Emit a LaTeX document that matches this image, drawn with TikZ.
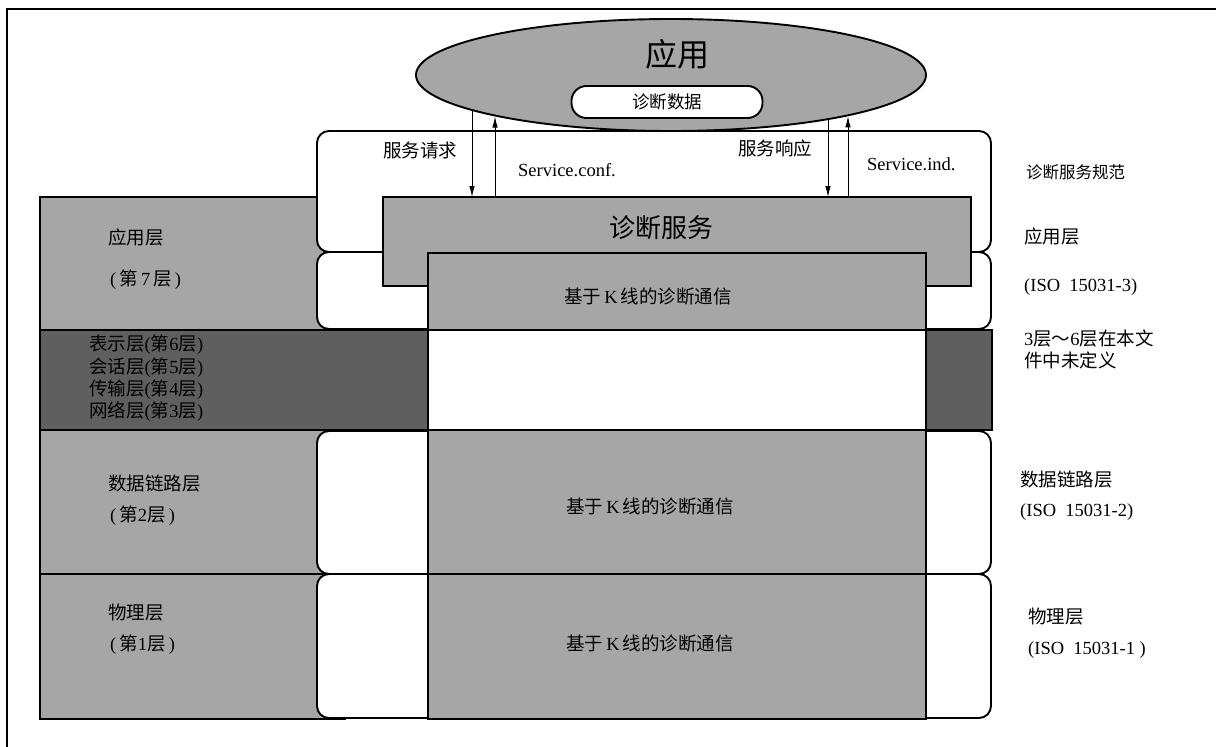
\documentclass[tikz,border=0pt]{standalone}
\usepackage{fontspec}
\setmainfont{Liberation Serif}
\newfontfamily\cjk{Noto Sans CJK SC}
\usetikzlibrary{shapes.geometric,arrows.meta}
\newcommand\zh[1]{{\cjk #1}}
\newcommand\fsz[1]{\fontsize{#1}{#1}\selectfont}
\definecolor{lg}{HTML}{A6A6A6}
\definecolor{dg}{HTML}{5F5F5F}
\begin{document}
\begin{tikzpicture}[x=1pt,y=-1pt,
  box/.style={draw, line width=1.9pt, inner sep=0pt, outer sep=0pt, anchor=north west},
  gbox/.style={box, fill=lg},
  dbox/.style={box, fill=dg},
  wbox/.style={box, fill=white, rounded corners=12pt},
  lbl/.style={anchor=west, inner sep=0pt, font=\fsz{18.5}},
  ctr/.style={inner sep=0pt, font=\fsz{18.5}},
  arr/.style={line width=0.9pt, -{Latex[length=11pt,width=5.5pt]}}]
\useasboundingbox (0,0) rectangle (1216,747);
% frame
\coordinate (fbl) at (7,747);
\coordinate (ftl) at (7,9);
\coordinate (ftr) at (1216,9);
\draw[line width=1.9pt] (fbl) -- (ftl) -- (ftr);
% left column
\node[gbox, minimum width=305, minimum height=133] (appL) at (40,197) {};
\node[gbox, minimum width=305, minimum height=144] (dlL) at (40,430) {};
\node[gbox, minimum width=305, minimum height=145] (phL) at (40,574) {};
\node[dbox, minimum width=388, minimum height=100] (midL) at (40,330) {};
% white brackets
\node[wbox, minimum width=674, minimum height=121] (spec) at (317,131) {};
\node[wbox, minimum width=674, minimum height=77] (alay) at (317,252) {};
\node[wbox, minimum width=674, minimum height=143] (dlay) at (317,431) {};
\node[wbox, minimum width=674, minimum height=144] (play) at (317,574) {};
\node[dbox, minimum width=66, minimum height=100] (midR) at (926,330) {};
% services
\node[gbox, minimum width=588, minimum height=89] (svc) at (383,197) {};
\node[gbox, minimum width=498, minimum height=77] (k1) at (428,253) {};
\node[box, fill=white, minimum width=498, minimum height=100] (kw) at (428,330) {};
\node[gbox, minimum width=498, minimum height=144] (k2) at (428,430) {};
\node[gbox, minimum width=498, minimum height=145] (k3) at (428,574) {};
% application ellipse
\node[draw, fill=lg, ellipse, line width=1.9pt, minimum width=510, minimum height=112, inner sep=0pt] (app) at (671,75) {};
\node[font=\fsz{32}, inner sep=0pt] (tapp) at (677,54) {\zh{应用}};
\node[draw, fill=white, line width=1.9pt, rounded corners=15pt, minimum width=191, minimum height=32, inner sep=0pt, font=\fsz{17.5}] (data) at (667,102) {\zh{诊断数据}};
% arrows
\coordinate (e1) at (472,110);
\coordinate (e2) at (495,116.5);
\coordinate (e3) at (828,119);
\coordinate (e4) at (848,116.3);
\draw[arr] (e1) -- (e1 |- svc.north);
\draw[arr] (e2 |- svc.north) -- (e2);
\draw[arr] (e3) -- (e3 |- svc.north);
\draw[arr] (e4 |- svc.north) -- (e4);
% labels top
\node[lbl] (treq) at (383,150) {\zh{服务请求}};
\node[lbl, font=\fsz{18.5}] (tconf) at (518,170) {Service.conf.};
\node[lbl] (tresp) at (738,148) {\zh{服务响应}};
\node[lbl, font=\fsz{18.5}] (tind) at (867,164) {Service.ind.};
\node[lbl, font=\fsz{16.5}] (tspec) at (1026,172) {\zh{诊断服务规范}};
\node[ctr, font=\fsz{26}] (tsvc) at (661,228) {\zh{诊断服务}};
\node[ctr] (tk1) at (648,296) {\zh{基于}\,K\,\zh{线的诊断通信}};
\node[ctr] (tk2) at (650,506) {\zh{基于}\,K\,\zh{线的诊断通信}};
\node[ctr] (tk3) at (650,643) {\zh{基于}\,K\,\zh{线的诊断通信}};
% left labels
\node[lbl] (l7a) at (108,237) {\zh{应用层}};
\node[lbl] (l7b) at (110,280) {(\,\zh{第}\,7\,\zh{层}\,)};
\node[lbl] (l6) at (89,345) {\zh{表示层}(\zh{第}6\zh{层})};
\node[lbl] (l5) at (89,368) {\zh{会话层}(\zh{第}5\zh{层})};
\node[lbl] (l4) at (89,390) {\zh{传输层}(\zh{第}4\zh{层})};
\node[lbl] (l3) at (89,412) {\zh{网络层}(\zh{第}3\zh{层})};
\node[lbl] (l2a) at (108,484) {\zh{数据链路层}};
\node[lbl] (l2b) at (110,516) {(\,\zh{第}2\zh{层}\,)};
\node[lbl] (l1a) at (108,613) {\zh{物理层}};
\node[lbl] (l1b) at (110,645) {(\,\zh{第}1\zh{层}\,)};
% right labels
\node[lbl] (r7a) at (1024,236) {\zh{应用层}};
\node[lbl] (r7b) at (1024,287) {(ISO\ \ 15031-3)};
\node[lbl] (r6a) at (1024,338) {3\zh{层～}6\zh{层在本文}};
\node[lbl] (r6b) at (1024,360) {\zh{件中未定义}};
\node[lbl] (r2a) at (1020,480) {\zh{数据链路层}};
\node[lbl] (r2b) at (1020,512) {(ISO\ \ 15031-2)};
\node[lbl] (r1a) at (1028,617) {\zh{物理层}};
\node[lbl] (r1b) at (1028,650) {(ISO\ \ 15031-1\ )};
\end{tikzpicture}
\end{document}
